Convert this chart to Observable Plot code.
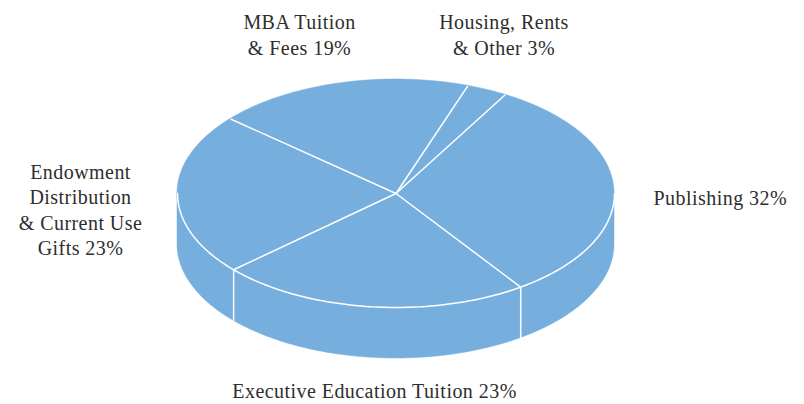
<!DOCTYPE html>
<html><head><meta charset="utf-8">
<script src="https://cdn.jsdelivr.net/npm/d3@7"></script>
<script src="https://cdn.jsdelivr.net/npm/@observablehq/plot@0.6"></script>
<style>body{margin:0;background:#fff}#chart svg{display:block}#chart text{letter-spacing:0.45px}</style>
</head><body><div id="chart"></div>
<script>
// ---- data (clockwise from the right) ----
const categories = ["Publishing", "Executive Education Tuition", "Endowment\nDistribution\n& Current Use\nGifts", "MBA Tuition\n& Fees", "Housing, Rents\n& Other"];
const shares = [32, 23, 23, 19, 3];

// ---- layout ----
const cx = 395.5, cy = 193, rx = 218.5, ry = 114, depth = 51, startDeg = -60;
const fillColor = "#76afde";
const labelX = [653, 374, 80, 299, 503.5];
const labelY = [196.6, 389, 208.5, 33.3, 33.3];
const labelAnchor = ["start", "middle", "middle", "middle", "middle"];

const total = d3.sum(shares);
const rad = d => d * Math.PI / 180;
const ex = a => cx + rx * Math.cos(rad(a));
const ey = a => cy + ry * Math.sin(rad(a));

let acc = startDeg;
const slices = shares.map((v, i) => {
  const s = acc, e = acc + v / total * 360; acc = e;
  return {i, s, e};
});

// top wedges
const wedgeRows = [];
for (const sl of slices) {
  const n = Math.max(2, Math.ceil(sl.e - sl.s));
  for (let k = 0; k <= n; k++) {
    const a = sl.s + (sl.e - sl.s) * k / n;
    wedgeRows.push({slice: sl.i, x1: ex(a), y1: ey(a), x2: cx, y2: cy});
  }
}
// front walls (angles 0..180)
const wallRows = [];
const dividers = [];
for (const sl of slices) {
  for (const off of [-360, 0, 360]) {
    const a0 = Math.max(sl.s + off, 0), a1 = Math.min(sl.e + off, 180);
    if (a1 > a0) {
      const n = Math.max(2, Math.ceil(a1 - a0));
      for (let k = 0; k <= n; k++) {
        const a = a0 + (a1 - a0) * k / n;
        wallRows.push({slice: sl.i + "_" + off, x: ex(a), y1: ey(a), y2: ey(a) + depth});
      }
    }
    const b = sl.s + off;
    if (b > 0 && b < 180) dividers.push({x: ex(b), y1: ey(b), y2: ey(b) + depth});
  }
}
const frontArc = d3.range(0, 181).map(a => ({x: ex(a), y: ey(a)}));
const radials = slices.map(sl => ({x1: cx, y1: cy, x2: ex(sl.s), y2: ey(sl.s)}));

const labels = categories.map((c, i) => ({text: c + " " + shares[i] + "%", x: labelX[i], y: labelY[i], anchor: labelAnchor[i]}));

const chart = Plot.plot({
  width: 804, height: 404, margin: 0,
  x: {domain: [0, 804], range: [0, 804], axis: null},
  y: {domain: [0, 404], range: [0, 404], axis: null},
  style: {fontFamily: "'Liberation Serif', serif", background: "#fff"},
  marks: [
    Plot.area(wallRows, {x1: "x", y1: "y1", x2: "x", y2: "y2", z: "slice", fill: fillColor, stroke: fillColor, strokeWidth: 0.5}),
    Plot.area(wedgeRows, {x1: "x1", y1: "y1", x2: "x2", y2: "y2", z: "slice", fill: fillColor, stroke: fillColor, strokeWidth: 0.5}),
    Plot.line(frontArc, {x: "x", y: "y", stroke: "white", strokeWidth: 1.5}),
    Plot.link(dividers, {x1: "x", y1: "y1", x2: "x", y2: "y2", stroke: "white", strokeWidth: 1.5}),
    Plot.link(radials, {x1: "x1", y1: "y1", x2: "x2", y2: "y2", stroke: "white", strokeWidth: 1.5}),
    ...["start", "middle"].map(anc => Plot.text(labels.filter(d => d.anchor === anc), {
      x: "x", y: "y", text: "text", textAnchor: anc, lineAnchor: "middle",
      lineHeight: 1.27, fontSize: 20, fill: "#2e2e2e"
    }))
  ]
});
document.getElementById("chart").appendChild(chart);
</script>
</body></html>
